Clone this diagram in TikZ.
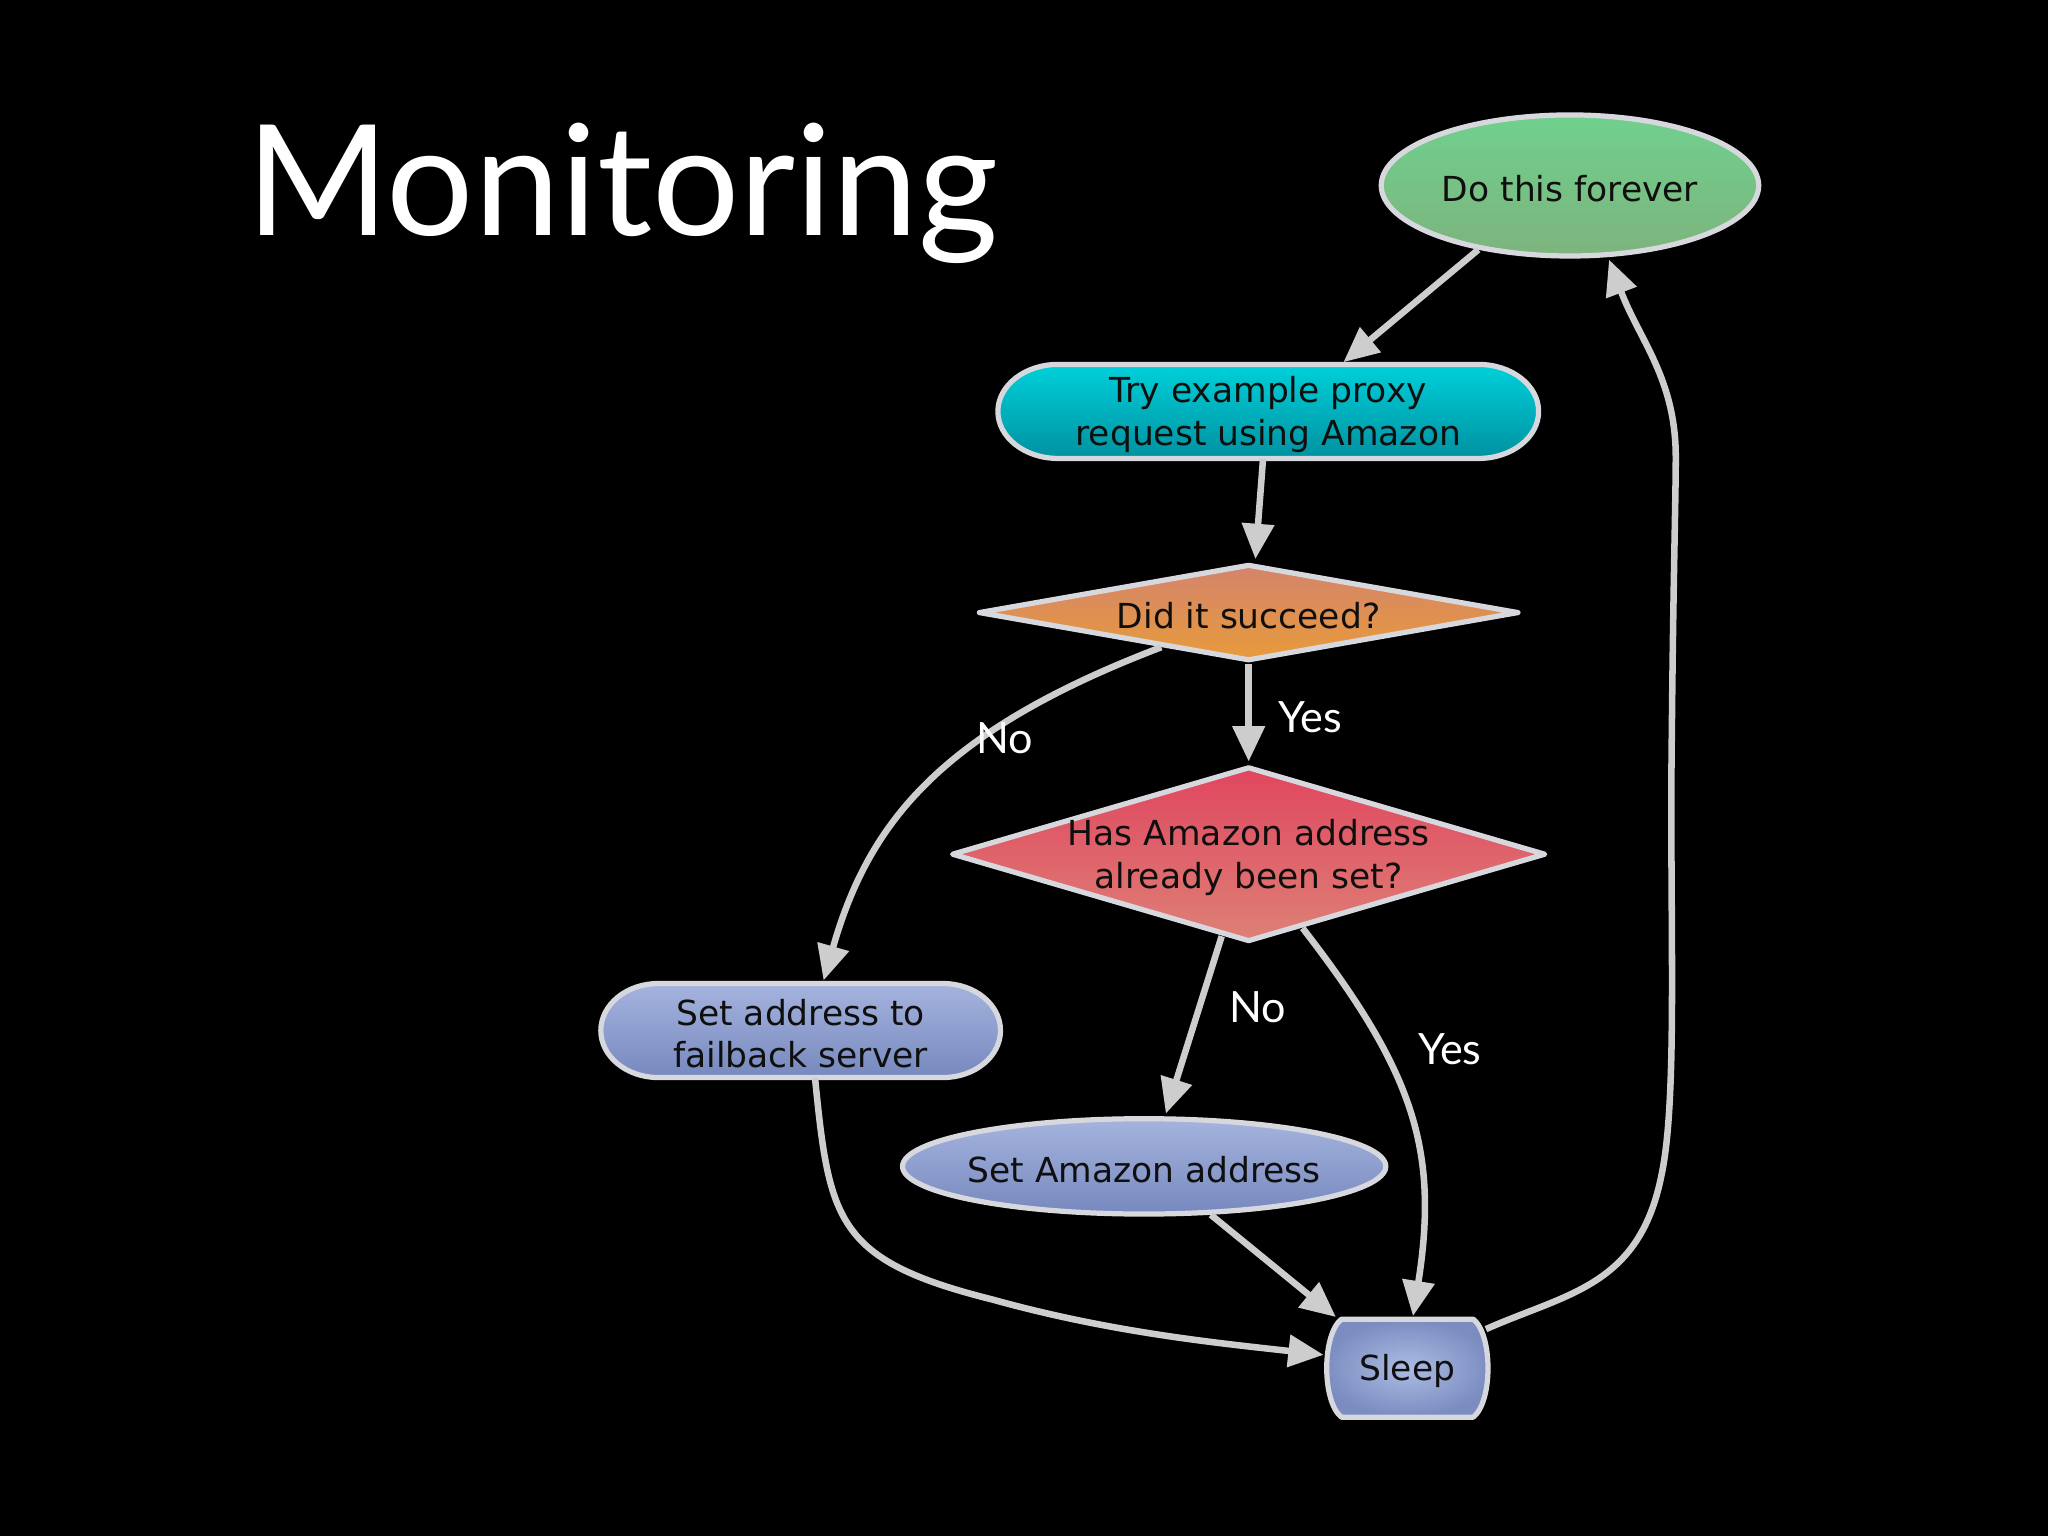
\documentclass[tikz,border=0pt]{standalone}
\usepackage{fontspec}
\setmainfont{DejaVu Sans}
\newfontfamily\titlefont{Lato}
\usetikzlibrary{shapes.geometric,arrows.meta,calc}
\definecolor{bordergray}{RGB}{215,215,222}
\definecolor{edgegray}{RGB}{205,205,205}
\definecolor{textdark}{RGB}{15,15,15}
\definecolor{greenT}{RGB}{112,208,142}
\definecolor{greenB}{RGB}{125,180,125}
\definecolor{cyanT}{RGB}{0,208,218}
\definecolor{cyanB}{RGB}{0,145,160}
\definecolor{orangeT}{RGB}{212,132,108}
\definecolor{orangeB}{RGB}{232,155,58}
\definecolor{redT}{RGB}{224,70,95}
\definecolor{redB}{RGB}{222,128,118}
\definecolor{blueT}{RGB}{165,180,222}
\definecolor{blueB}{RGB}{118,136,190}
\definecolor{blueC}{RGB}{172,188,228}
\definecolor{blueO}{RGB}{122,140,192}
\begin{document}
\begin{tikzpicture}[x=0.5pt,y=-0.5pt,
  nodeborder/.style={draw=bordergray, line width=2pt, line join=round},
  txt/.style={font=\fontsize{13.2}{16.3}\selectfont, text=textdark, align=center, inner sep=0, yshift=-1.2pt},
  edgeline/.style={draw=edgegray, line width=2.5pt, -{Triangle[length=13.5pt,width=12pt]}, shorten >=1pt},
  lbl/.style={font=\titlefont\fontsize{16.5}{18}\selectfont, text=white, inner sep=0},
  anchorbox/.style={rectangle, inner sep=0}]
\fill[black] (0,0) rectangle (1568,1176);
\useasboundingbox (0,0) rectangle (1568,1176);

\node[anchor=base west, font=\titlefont\fontsize{59}{59}\selectfont, text=white, inner sep=0] (title) at (188,180) {Monitoring};

% Do this forever
\node[ellipse, nodeborder, top color=greenT, bottom color=greenB, minimum width=144.5pt, minimum height=54pt, inner sep=0] (forever) at (1202,142) {};
\node[txt] (forevertxt) at (forever) {Do this forever};

% Try example proxy
\path[nodeborder, top color=cyanT, bottom color=cyanB]
  (810,279) -- (1132,279) arc[start angle=90,end angle=-90,x radius=23pt,y radius=18pt]
  -- (810,351) arc[start angle=270,end angle=90,x radius=23pt,y radius=18pt] -- cycle;
\node[anchorbox, minimum width=207pt, minimum height=36pt] (try) at (971,315) {};
\node[txt] (trytxt) at (try) {Try example proxy\\request using Amazon};

% Did it succeed
\node[diamond, nodeborder, top color=orangeT, bottom color=orangeB, minimum width=207pt, minimum height=37pt, inner sep=0] (did) at (956,469) {};
\node[txt] (didtxt) at (did) {Did it succeed?};

% Has Amazon address
\node[diamond, nodeborder, top color=redT, bottom color=redB, minimum width=227.5pt, minimum height=67pt, inner sep=0] (has) at (956,654) {};
\node[txt] (hastxt) at (has) {Has Amazon address\\already been set?};

% Set address to failback server
\path[nodeborder, top color=blueT, bottom color=blueB]
  (504,753) -- (722,753) arc[start angle=90,end angle=-90,x radius=22pt,y radius=18pt]
  -- (504,825) arc[start angle=270,end angle=90,x radius=22pt,y radius=18pt] -- cycle;
\node[anchorbox, minimum width=153pt, minimum height=36pt] (failback) at (613,789) {};
\node[txt] (failbacktxt) at (failback) {Set address to\\failback server};

% Set Amazon address
\node[ellipse, nodeborder, top color=blueT, bottom color=blueB, minimum width=185pt, minimum height=36.5pt, inner sep=0] (setamazon) at (876,893) {};
\node[txt] (setamazontxt) at (setamazon) {Set Amazon address};

% Sleep
\path[nodeborder, inner color=blueC, outer color=blueO]
  (1027,1010) -- (1128,1010) .. controls (1143,1022) and (1143,1073) .. (1128,1085)
  -- (1027,1085) .. controls (1012,1073) and (1012,1022) .. (1027,1010) -- cycle;
\node[anchorbox, minimum width=61.75pt, minimum height=37.5pt] (sleep) at (1077.5,1047.5) {};
\node[txt] (sleeptxt) at (sleep) {Sleep};

% Connectors
\draw[edgeline] (forever.215) -- ($(try.north)+(56,0)$);
\draw[edgeline] ($(try.south)+(-4,0)$) -- ($(did.north)+(5,0)$);
\draw[edgeline] (did.south) -- (has.north);
\draw[edgeline] ($(did.west)!0.68!(did.south)$) .. controls (720,560) and (665,630) .. ($(failback.north)+(17,0)$);
\draw[edgeline] ($(has.west)!0.91!(has.south)$) -- ($(setamazon.north)+(16,0)$);
\draw[edgeline] ($(has.south)!0.18!(has.east)$) .. controls (1082,820) and (1102,880) .. ($(sleep.north)+(4,0)$);
\draw[edgeline] ($(failback.south)+(11,0)$) .. controls (635,935) and (640,965) .. (760,995)
  .. controls (850,1020) and (930,1028) .. ($(sleep.west)+(0,-10)$);
\draw[edgeline] (setamazon.324) -- ($(sleep.north west)+(9,0)$);
\draw[edgeline] ($(sleep.north east)+(-2,8)$) .. controls (1200,990) and (1255,985) .. (1272,900)
  .. controls (1285,840) and (1278,700) .. (1280,560)
  .. controls (1281,450) and (1283,380) .. (1283,350)
  .. controls (1283,290) and (1255,260) .. (forever.298);

% Labels
\node[lbl] (yes1) at (1003,549) {Yes};
\node[lbl] (no1) at (769,565) {No};
\node[lbl] (no2) at (963,771) {No};
\node[lbl] (yes2) at (1110,803) {Yes};
\end{tikzpicture}
\end{document}
